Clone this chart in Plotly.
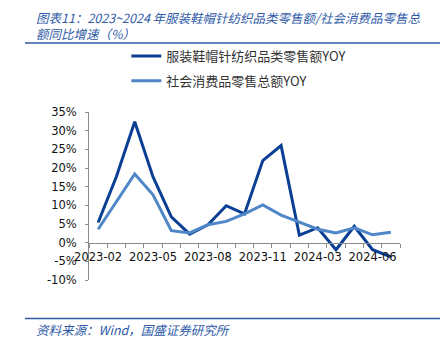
import plotly.graph_objects as go

categories = ["2023-02", "2023-03", "2023-04", "2023-05", "2023-06", "2023-07",
              "2023-08", "2023-09", "2023-10", "2023-11", "2023-12", "2024-02",
              "2024-03", "2024-04", "2024-05", "2024-06", "2024-07"]
apparel_yoy = [5.4, 17.7, 32.4, 17.6, 6.9, 2.3, 4.8, 9.9, 7.7, 22.0, 26.0, 2.0,
               4.0, -1.9, 4.4, -1.9, -3.8]
retail_yoy = [3.6, 11.0, 18.4, 12.8, 3.2, 2.6, 4.8, 5.7, 7.7, 10.1, 7.4, 5.5,
              3.6, 2.6, 4.0, 2.1, 2.8]
shown_labels = ["2023-02", "2023-05", "2023-08", "2023-11", "2024-03", "2024-06"]
y_ticks = [-10, -5, 0, 5, 10, 15, 20, 25, 30, 35]

title_text = "图表11：2023~2024 年服装鞋帽针纺织品类零售额/社会消费品零售总<br>额同比增速（%）"
source_text = "资料来源：Wind，国盛证券研究所"

DARK = "#0B3F94"
LIGHT = "#4F86C8"
RULE = "#2E5AA6"
TXT = "#2E5AA6"

L, R, T, B = 89, 46, 112, 60
PW, PH = 446 - L - R, 340 - T - B


def px_x(x):
    return (x - L) / PW


def px_y(y):
    return (340 - B - y) / PH


fig = go.Figure()
fig.add_trace(go.Scatter(x=categories, y=apparel_yoy, mode="lines",
                         name="服装鞋帽针纺织品类零售额YOY",
                         line=dict(color=DARK, width=3), legendgroup="a"))
fig.add_trace(go.Scatter(x=categories, y=retail_yoy, mode="lines",
                         name="社会消费品零售总额YOY",
                         line=dict(color=LIGHT, width=3), legendgroup="b"))

title_font = dict(family="Noto Sans CJK SC", size=12.5, color=TXT, style="italic")

fig.update_layout(
    width=446, height=340,
    margin=dict(l=L, r=R, t=T, b=B),
    paper_bgcolor="white", plot_bgcolor="white",
    font=dict(family="DejaVu Sans", size=11.5, color="#111"),
    showlegend=True,
    legend=dict(x=0.12, y=px_y(41), xanchor="left", yanchor="top",
                orientation="v", traceorder="grouped", tracegroupgap=5,
                font=dict(family="Noto Sans CJK SC", size=13, color="#333"),
                itemwidth=30, bgcolor="rgba(0,0,0,0)"),
    xaxis=dict(type="category", categoryorder="array", categoryarray=categories,
               range=[-0.5, len(categories) - 0.5],
               anchor="free", position=10 / 45,
               showline=True, linecolor="#8C8C8C", linewidth=1,
               ticks="outside", ticklen=4, tickcolor="#8C8C8C", tickson="boundaries",
               tickvals=categories,
               ticktext=[c if c in shown_labels else "" for c in categories],
               ticklabelstandoff=4,
               showgrid=False, zeroline=False, tickangle=0,
               tickfont=dict(family="DejaVu Sans", size=11.5, color="#111")),
    yaxis=dict(range=[-10, 35], tickvals=y_ticks,
               ticktext=[f"{v}%" for v in y_ticks],
               showline=True, linecolor="#8C8C8C", linewidth=1,
               ticks="outside", ticklen=3, tickcolor="#8C8C8C",
               ticklabelstandoff=6,
               showgrid=False, zeroline=False,
               tickfont=dict(family="DejaVu Sans", size=11.5, color="#111")),
    shapes=[
        dict(type="line", xref="paper", yref="paper",
             x0=px_x(25), x1=px_x(440), y0=px_y(43), y1=px_y(43),
             line=dict(color=RULE, width=1.5)),
        dict(type="line", xref="paper", yref="paper",
             x0=px_x(25), x1=px_x(440), y0=px_y(318.5), y1=px_y(318.5),
             line=dict(color=RULE, width=1.5)),
    ],
    annotations=[
        dict(text=title_text, xref="paper", yref="paper",
             x=px_x(34), y=px_y(25.5), xanchor="left", yanchor="middle",
             align="left", showarrow=False, font=title_font),
        dict(text=source_text, xref="paper", yref="paper",
             x=px_x(34), y=px_y(329), xanchor="left", yanchor="middle",
             showarrow=False,
             font=dict(family="Noto Sans CJK SC", size=12.5, color=TXT,
                       style="italic")),
    ],
)

fig.write_html("out.html")
